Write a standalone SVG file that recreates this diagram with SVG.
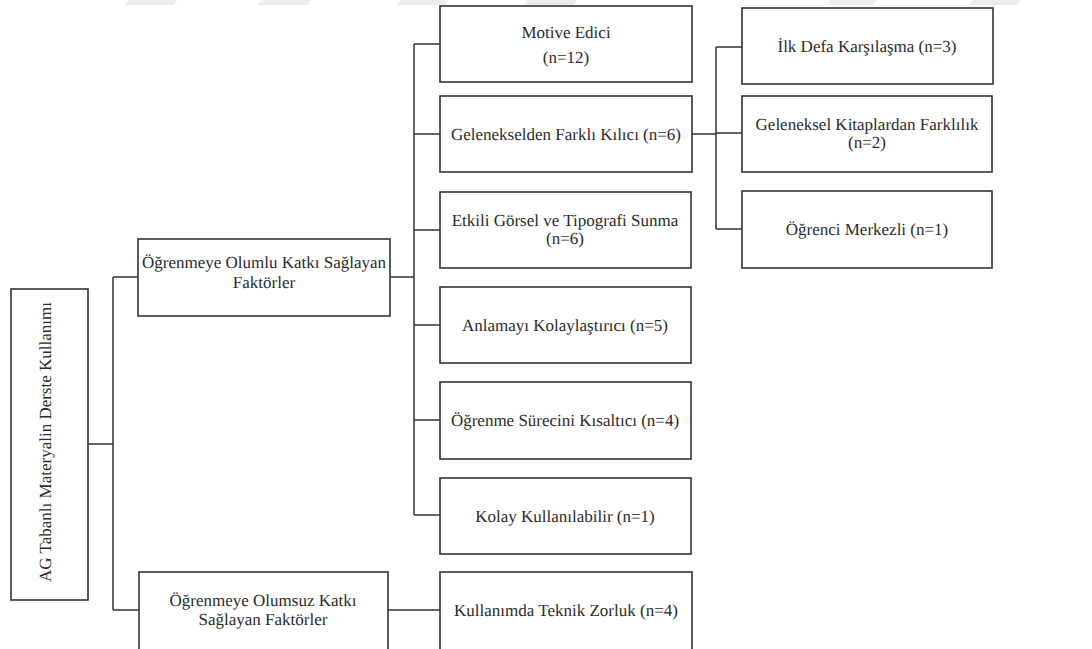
<svg xmlns="http://www.w3.org/2000/svg" width="1092" height="649" viewBox="0 0 1092 649">
  <defs>
    <style>
      .box { fill: #ffffff; stroke: #333333; stroke-width: 1.6; }
      .lbl { font-family: "Liberation Serif", serif; font-size: 17px; fill: #2b2b2b; text-anchor: middle; text-rendering: geometricPrecision; }
      .link { fill: none; stroke: #333333; stroke-width: 1.5; }
      .mark { fill: #ececec; }
    </style>
  </defs>
  <rect width="1092" height="649" fill="#ffffff"/>

  <!-- faint marks along the top edge -->
  <g id="top-marks">
    <polygon class="mark" points="128,0 177,0 174,5 125,5"/>
    <polygon class="mark" points="261,0 311,0 308,5 258,5"/>
    <polygon class="mark" points="400,0 448,0 445,5 397,5"/>
    <polygon class="mark" points="527,0 577,0 574,5 524,5"/>
    <polygon class="mark" points="831,0 876,0 873,5 828,5"/>
    <polygon class="mark" points="972,0 1020,0 1017,5 969,5"/>
  </g>

  <!-- connectors -->
  <g id="connectors">
    <path class="link" d="M88 444 H113 M113 277 V610 M113 277 H138 M113 610 H139"/>
    <path class="link" d="M390 277 H414 M414 44 V515 M414 44 H440 M414 134 H440 M414 230 H440 M414 325 H440 M414 420 H440 M414 515 H440"/>
    <path class="link" d="M692 134 H716 M716 47 V229 M716 47 H742 M716 133 H742 M716 229 H742"/>
    <path class="link" d="M388 610 H440"/>
  </g>

  <!-- root -->
  <g id="root">
    <rect class="box" x="11" y="289" width="77" height="311"/>
    <text class="lbl" transform="translate(51 442) rotate(-90)">AG Tabanlı Materyalin Derste Kullanımı</text>
  </g>

  <!-- first level -->
  <g id="olumlu">
    <rect class="box" x="138" y="239" width="252" height="77"/>
    <text class="lbl" x="264" y="268">Öğrenmeye Olumlu Katkı Sağlayan</text>
    <text class="lbl" x="264" y="288">Faktörler</text>
  </g>
  <g id="olumsuz">
    <rect class="box" x="139" y="572" width="249" height="82"/>
    <text class="lbl" x="263" y="606">Öğrenmeye Olumsuz Katkı</text>
    <text class="lbl" x="263" y="625">Sağlayan Faktörler</text>
  </g>

  <!-- second level -->
  <g id="motive">
    <rect class="box" x="440" y="6" width="252" height="76"/>
    <text class="lbl" x="566" y="38">Motive Edici</text>
    <text class="lbl" x="566" y="63">(n=12)</text>
  </g>
  <g id="farkli">
    <rect class="box" x="440" y="96" width="252" height="76"/>
    <text class="lbl" x="566" y="140">Gelenekselden Farklı Kılıcı (n=6)</text>
  </g>
  <g id="gorsel">
    <rect class="box" x="440" y="192" width="251" height="76"/>
    <text class="lbl" x="565" y="226">Etkili Görsel ve Tipografi Sunma</text>
    <text class="lbl" x="565" y="244">(n=6)</text>
  </g>
  <g id="anlama">
    <rect class="box" x="440" y="287" width="251" height="76"/>
    <text class="lbl" x="565" y="331">Anlamayı Kolaylaştırıcı (n=5)</text>
  </g>
  <g id="surec">
    <rect class="box" x="440" y="382" width="251" height="77"/>
    <text class="lbl" x="565" y="426">Öğrenme Sürecini Kısaltıcı (n=4)</text>
  </g>
  <g id="kolay">
    <rect class="box" x="440" y="478" width="251" height="76"/>
    <text class="lbl" x="565" y="522">Kolay Kullanılabilir (n=1)</text>
  </g>
  <g id="teknik">
    <rect class="box" x="440" y="572" width="252" height="82"/>
    <text class="lbl" x="566" y="616">Kullanımda Teknik Zorluk (n=4)</text>
  </g>

  <!-- third level -->
  <g id="ilk">
    <rect class="box" x="742" y="8" width="251" height="76"/>
    <text class="lbl" x="867" y="52">İlk Defa Karşılaşma (n=3)</text>
  </g>
  <g id="kitap">
    <rect class="box" x="742" y="96" width="250" height="76"/>
    <text class="lbl" x="867" y="130">Geleneksel Kitaplardan Farklılık</text>
    <text class="lbl" x="867" y="148">(n=2)</text>
  </g>
  <g id="merkez">
    <rect class="box" x="742" y="191" width="250" height="77"/>
    <text class="lbl" x="867" y="235">Öğrenci Merkezli (n=1)</text>
  </g>
</svg>
